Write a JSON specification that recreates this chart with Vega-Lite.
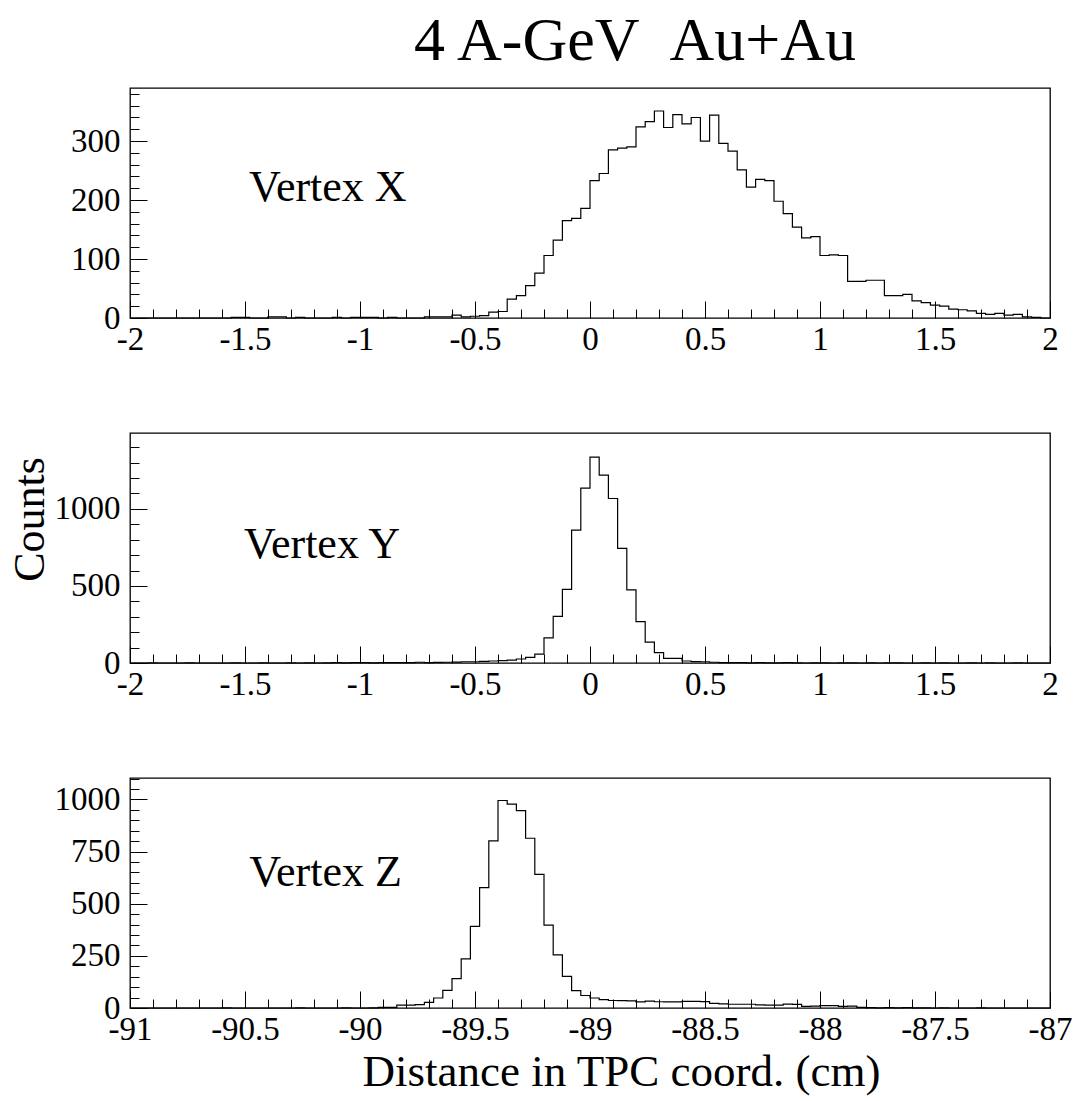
{
  "$schema": "https://vega.github.io/schema/vega-lite/v6.json",
  "background": "white",
  "padding": {"left": 7, "top": 10, "right": 25, "bottom": 10},
  "title": {"text": "4 A-GeV \u00a0Au+Au", "font": "Liberation Serif", "fontSize": 62, "fontWeight": "normal", "color": "black", "anchor": "middle", "offset": 4, "dx": 95},
  "config": {
    "font": "Liberation Serif",
    "view": {"stroke": "black", "strokeWidth": 1.3},
    "axis": {"domain": false, "grid": false, "labelFont": "Liberation Serif", "labelFontSize": 33, "labelColor": "black", "tickColor": "black", "tickWidth": 1, "titleFont": "Liberation Serif", "titleFontSize": 44, "titleFontWeight": "normal", "titleColor": "black", "labelOverlap": false, "labelFlush": false, "labelPadding": 27},
    "axisX": {"labelPadding": 22}
  },
  "bounds": "flush",
  "spacing": 115,
  "datasets": {
    "vx": [
      {"x": -2.00, "c": 0}, {"x": -1.96, "c": 0}, {"x": -1.92, "c": 0}, {"x": -1.88, "c": 0}, {"x": -1.84, "c": 0},
      {"x": -1.80, "c": 0}, {"x": -1.76, "c": 0}, {"x": -1.72, "c": 0}, {"x": -1.68, "c": 0}, {"x": -1.64, "c": 0},
      {"x": -1.60, "c": 0}, {"x": -1.56, "c": 1}, {"x": -1.52, "c": 1}, {"x": -1.48, "c": 0}, {"x": -1.44, "c": 0},
      {"x": -1.40, "c": 2}, {"x": -1.36, "c": 2}, {"x": -1.32, "c": 0}, {"x": -1.28, "c": 1}, {"x": -1.24, "c": 0},
      {"x": -1.20, "c": 0}, {"x": -1.16, "c": 0}, {"x": -1.12, "c": 1}, {"x": -1.08, "c": 0}, {"x": -1.04, "c": 1},
      {"x": -1.00, "c": 1}, {"x": -0.96, "c": 1}, {"x": -0.92, "c": 0}, {"x": -0.88, "c": 1}, {"x": -0.84, "c": 0},
      {"x": -0.80, "c": 0}, {"x": -0.76, "c": 0}, {"x": -0.72, "c": 2}, {"x": -0.68, "c": 2}, {"x": -0.64, "c": 2},
      {"x": -0.60, "c": 5}, {"x": -0.56, "c": 2}, {"x": -0.52, "c": 3}, {"x": -0.48, "c": 4}, {"x": -0.44, "c": 10},
      {"x": -0.40, "c": 11}, {"x": -0.36, "c": 32}, {"x": -0.32, "c": 38}, {"x": -0.28, "c": 55}, {"x": -0.24, "c": 76},
      {"x": -0.20, "c": 106}, {"x": -0.16, "c": 132}, {"x": -0.12, "c": 165}, {"x": -0.08, "c": 169}, {"x": -0.04, "c": 186},
      {"x": 0.00, "c": 233}, {"x": 0.04, "c": 245}, {"x": 0.08, "c": 285}, {"x": 0.12, "c": 288}, {"x": 0.16, "c": 290},
      {"x": 0.20, "c": 324}, {"x": 0.24, "c": 333}, {"x": 0.28, "c": 351}, {"x": 0.32, "c": 323}, {"x": 0.36, "c": 345},
      {"x": 0.40, "c": 329}, {"x": 0.44, "c": 340}, {"x": 0.48, "c": 300}, {"x": 0.52, "c": 344}, {"x": 0.56, "c": 296},
      {"x": 0.60, "c": 283}, {"x": 0.64, "c": 251}, {"x": 0.68, "c": 222}, {"x": 0.72, "c": 235}, {"x": 0.76, "c": 233},
      {"x": 0.80, "c": 198}, {"x": 0.84, "c": 177}, {"x": 0.88, "c": 154}, {"x": 0.92, "c": 136}, {"x": 0.96, "c": 138},
      {"x": 1.00, "c": 106}, {"x": 1.04, "c": 107}, {"x": 1.08, "c": 106}, {"x": 1.12, "c": 62}, {"x": 1.16, "c": 62},
      {"x": 1.20, "c": 64}, {"x": 1.24, "c": 64}, {"x": 1.28, "c": 38}, {"x": 1.32, "c": 38}, {"x": 1.36, "c": 40},
      {"x": 1.40, "c": 29}, {"x": 1.44, "c": 26}, {"x": 1.48, "c": 22}, {"x": 1.52, "c": 20}, {"x": 1.56, "c": 15},
      {"x": 1.60, "c": 14}, {"x": 1.64, "c": 12}, {"x": 1.68, "c": 8}, {"x": 1.72, "c": 6}, {"x": 1.76, "c": 8},
      {"x": 1.80, "c": 5}, {"x": 1.84, "c": 6}, {"x": 1.88, "c": 2}, {"x": 1.92, "c": 1}, {"x": 1.96, "c": 0},
      {"x": 2.00, "c": 0}
    ],
    "vy": [
      {"x": -2.00, "c": 0}, {"x": -1.96, "c": 0}, {"x": -1.92, "c": 1}, {"x": -1.88, "c": 0}, {"x": -1.84, "c": 0},
      {"x": -1.80, "c": 0}, {"x": -1.76, "c": 1}, {"x": -1.72, "c": 0}, {"x": -1.68, "c": 0}, {"x": -1.64, "c": 0},
      {"x": -1.60, "c": 0}, {"x": -1.56, "c": 1}, {"x": -1.52, "c": 0}, {"x": -1.48, "c": 0}, {"x": -1.44, "c": 1},
      {"x": -1.40, "c": 0}, {"x": -1.36, "c": 0}, {"x": -1.32, "c": 1}, {"x": -1.28, "c": 0}, {"x": -1.24, "c": 1},
      {"x": -1.20, "c": 0}, {"x": -1.16, "c": 1}, {"x": -1.12, "c": 2}, {"x": -1.08, "c": 1}, {"x": -1.04, "c": 2},
      {"x": -1.00, "c": 2}, {"x": -0.96, "c": 1}, {"x": -0.92, "c": 2}, {"x": -0.88, "c": 3}, {"x": -0.84, "c": 2},
      {"x": -0.80, "c": 3}, {"x": -0.76, "c": 5}, {"x": -0.72, "c": 3}, {"x": -0.68, "c": 4}, {"x": -0.64, "c": 5},
      {"x": -0.60, "c": 6}, {"x": -0.56, "c": 8}, {"x": -0.52, "c": 8}, {"x": -0.48, "c": 11}, {"x": -0.44, "c": 13},
      {"x": -0.40, "c": 15}, {"x": -0.36, "c": 19}, {"x": -0.32, "c": 26}, {"x": -0.28, "c": 37}, {"x": -0.24, "c": 58},
      {"x": -0.20, "c": 163}, {"x": -0.16, "c": 303}, {"x": -0.12, "c": 477}, {"x": -0.08, "c": 862}, {"x": -0.04, "c": 1135},
      {"x": 0.00, "c": 1335}, {"x": 0.04, "c": 1219}, {"x": 0.08, "c": 1067}, {"x": 0.12, "c": 744}, {"x": 0.16, "c": 475},
      {"x": 0.20, "c": 269}, {"x": 0.24, "c": 135}, {"x": 0.28, "c": 67}, {"x": 0.32, "c": 30}, {"x": 0.36, "c": 30},
      {"x": 0.40, "c": 13}, {"x": 0.44, "c": 9}, {"x": 0.48, "c": 8}, {"x": 0.52, "c": 5}, {"x": 0.56, "c": 3},
      {"x": 0.60, "c": 2}, {"x": 0.64, "c": 2}, {"x": 0.68, "c": 1}, {"x": 0.72, "c": 2}, {"x": 0.76, "c": 1},
      {"x": 0.80, "c": 1}, {"x": 0.84, "c": 2}, {"x": 0.88, "c": 1}, {"x": 0.92, "c": 0}, {"x": 0.96, "c": 1},
      {"x": 1.00, "c": 1}, {"x": 1.04, "c": 0}, {"x": 1.08, "c": 1}, {"x": 1.12, "c": 1}, {"x": 1.16, "c": 0},
      {"x": 1.20, "c": 1}, {"x": 1.24, "c": 0}, {"x": 1.28, "c": 1}, {"x": 1.32, "c": 1}, {"x": 1.36, "c": 0},
      {"x": 1.40, "c": 0}, {"x": 1.44, "c": 1}, {"x": 1.48, "c": 0}, {"x": 1.52, "c": 1}, {"x": 1.56, "c": 0},
      {"x": 1.60, "c": 0}, {"x": 1.64, "c": 1}, {"x": 1.68, "c": 0}, {"x": 1.72, "c": 1}, {"x": 1.76, "c": 0},
      {"x": 1.80, "c": 0}, {"x": 1.84, "c": 1}, {"x": 1.88, "c": 0}, {"x": 1.92, "c": 0}, {"x": 1.96, "c": 0},
      {"x": 2.00, "c": 0}
    ],
    "vz": [
      {"x": -91.00, "c": 0}, {"x": -90.96, "c": 0}, {"x": -90.92, "c": 0}, {"x": -90.88, "c": 0}, {"x": -90.84, "c": 0},
      {"x": -90.80, "c": 0}, {"x": -90.76, "c": 0}, {"x": -90.72, "c": 0}, {"x": -90.68, "c": 0}, {"x": -90.64, "c": 0},
      {"x": -90.60, "c": 1}, {"x": -90.56, "c": 0}, {"x": -90.52, "c": 0}, {"x": -90.48, "c": 0}, {"x": -90.44, "c": 0},
      {"x": -90.40, "c": 0}, {"x": -90.36, "c": 0}, {"x": -90.32, "c": 0}, {"x": -90.28, "c": 1}, {"x": -90.24, "c": 0},
      {"x": -90.20, "c": 0}, {"x": -90.16, "c": 0}, {"x": -90.12, "c": 0}, {"x": -90.08, "c": 1}, {"x": -90.04, "c": 0},
      {"x": -90.00, "c": 0}, {"x": -89.96, "c": 1}, {"x": -89.92, "c": 3}, {"x": -89.88, "c": 3}, {"x": -89.84, "c": 14},
      {"x": -89.80, "c": 14}, {"x": -89.76, "c": 16}, {"x": -89.72, "c": 27}, {"x": -89.68, "c": 48}, {"x": -89.64, "c": 85},
      {"x": -89.60, "c": 141}, {"x": -89.56, "c": 236}, {"x": -89.52, "c": 391}, {"x": -89.48, "c": 577}, {"x": -89.44, "c": 801},
      {"x": -89.40, "c": 995}, {"x": -89.36, "c": 978}, {"x": -89.32, "c": 947}, {"x": -89.28, "c": 814}, {"x": -89.24, "c": 641},
      {"x": -89.20, "c": 397}, {"x": -89.16, "c": 255}, {"x": -89.12, "c": 152}, {"x": -89.08, "c": 83}, {"x": -89.04, "c": 60},
      {"x": -89.00, "c": 48}, {"x": -88.96, "c": 40}, {"x": -88.92, "c": 36}, {"x": -88.88, "c": 35}, {"x": -88.84, "c": 34},
      {"x": -88.80, "c": 29}, {"x": -88.76, "c": 33}, {"x": -88.72, "c": 30}, {"x": -88.68, "c": 29}, {"x": -88.64, "c": 29},
      {"x": -88.60, "c": 32}, {"x": -88.56, "c": 32}, {"x": -88.52, "c": 31}, {"x": -88.48, "c": 22}, {"x": -88.44, "c": 20},
      {"x": -88.40, "c": 18}, {"x": -88.36, "c": 18}, {"x": -88.32, "c": 18}, {"x": -88.28, "c": 15}, {"x": -88.24, "c": 14},
      {"x": -88.20, "c": 14}, {"x": -88.16, "c": 19}, {"x": -88.12, "c": 17}, {"x": -88.08, "c": 8}, {"x": -88.04, "c": 9},
      {"x": -88.00, "c": 11}, {"x": -87.96, "c": 11}, {"x": -87.92, "c": 8}, {"x": -87.88, "c": 9}, {"x": -87.84, "c": 3},
      {"x": -87.80, "c": 2}, {"x": -87.76, "c": 1}, {"x": -87.72, "c": 2}, {"x": -87.68, "c": 1}, {"x": -87.64, "c": 2},
      {"x": -87.60, "c": 1}, {"x": -87.56, "c": 1}, {"x": -87.52, "c": 0}, {"x": -87.48, "c": 1}, {"x": -87.44, "c": 0},
      {"x": -87.40, "c": 0}, {"x": -87.36, "c": 0}, {"x": -87.32, "c": 1}, {"x": -87.28, "c": 0}, {"x": -87.24, "c": 0},
      {"x": -87.20, "c": 0}, {"x": -87.16, "c": 0}, {"x": -87.12, "c": 0}, {"x": -87.08, "c": 0}, {"x": -87.04, "c": 0},
      {"x": -87.00, "c": 0}
    ],
    "labX": [{"t": "Vertex X", "x": -1.14, "c": 221}],
    "labY": [{"t": "Vertex Y", "x": -1.165, "c": 768}],
    "labZ": [{"t": "Vertex Z", "x": -90.15, "c": 647}]
  },
  "vconcat": [
    {
      "width": 920, "height": 230,
      "layer": [
        {
          "data": {"name": "vx"},
          "mark": {"type": "line", "interpolate": "step-after", "color": "black", "strokeWidth": 1.2},
          "encoding": {
            "x": {"field": "x", "type": "quantitative", "scale": {"domain": [-2, 2], "nice": false, "zero": false},
              "axis": {"title": null, "tickCount": 100, "labelOverlap": false, "values": [-2,-1.9,-1.8,-1.7,-1.6,-1.5,-1.4,-1.3,-1.2,-1.1,-1,-0.9,-0.8,-0.7,-0.6,-0.5,-0.4,-0.3,-0.2,-0.1,0,0.1,0.2,0.3,0.4,0.5,0.6,0.7,0.8,0.9,1,1.1,1.2,1.3,1.4,1.5,1.6,1.7,1.8,1.9,2],
                "labelExpr": "abs(datum.value*2 - round(datum.value*2)) < 0.001 ? '' + datum.value : ''",
                "tickSize": {"condition": {"test": "abs(datum.value*2 - round(datum.value*2)) < 0.001", "value": -17}, "value": -9}}},
            "y": {"field": "c", "type": "quantitative", "scale": {"domain": [0, 390], "nice": false},
              "axis": {"title": null, "tickCount": 100, "labelOverlap": false, "values": [0,20,40,60,80,100,120,140,160,180,200,220,240,260,280,300,320,340,360,380],
                "labelExpr": "datum.value % 100 == 0 ? '' + datum.value : ''",
                "tickSize": {"condition": {"test": "datum.value % 100 == 0", "value": -17}, "value": -9}}}
          }
        },
        {
          "data": {"name": "labX"},
          "mark": {"type": "text", "font": "Liberation Serif", "fontSize": 44, "color": "black", "align": "center", "baseline": "middle"},
          "encoding": {"x": {"field": "x", "type": "quantitative"}, "y": {"field": "c", "type": "quantitative"}, "text": {"field": "t"}}
        }
      ]
    },
    {
      "width": 920, "height": 230,
      "layer": [
        {
          "data": {"name": "vy"},
          "mark": {"type": "line", "interpolate": "step-after", "color": "black", "strokeWidth": 1.2},
          "encoding": {
            "x": {"field": "x", "type": "quantitative", "scale": {"domain": [-2, 2], "nice": false, "zero": false},
              "axis": {"title": null, "tickCount": 100, "labelOverlap": false, "values": [-2,-1.9,-1.8,-1.7,-1.6,-1.5,-1.4,-1.3,-1.2,-1.1,-1,-0.9,-0.8,-0.7,-0.6,-0.5,-0.4,-0.3,-0.2,-0.1,0,0.1,0.2,0.3,0.4,0.5,0.6,0.7,0.8,0.9,1,1.1,1.2,1.3,1.4,1.5,1.6,1.7,1.8,1.9,2],
                "labelExpr": "abs(datum.value*2 - round(datum.value*2)) < 0.001 ? '' + datum.value : ''",
                "tickSize": {"condition": {"test": "abs(datum.value*2 - round(datum.value*2)) < 0.001", "value": -17}, "value": -9}}},
            "y": {"field": "c", "type": "quantitative", "scale": {"domain": [0, 1492], "nice": false},
              "axis": {"title": "Counts", "titlePadding": 2, "titleY": 86, "tickCount": 100, "labelOverlap": false, "values": [0,100,200,300,400,500,600,700,800,900,1000,1100,1200,1300,1400],
                "labelExpr": "datum.value % 500 == 0 ? '' + datum.value : ''",
                "tickSize": {"condition": {"test": "datum.value % 500 == 0", "value": -17}, "value": -9}}}
          }
        },
        {
          "data": {"name": "labY"},
          "mark": {"type": "text", "font": "Liberation Serif", "fontSize": 44, "color": "black", "align": "center", "baseline": "middle"},
          "encoding": {"x": {"field": "x", "type": "quantitative"}, "y": {"field": "c", "type": "quantitative"}, "text": {"field": "t"}}
        }
      ]
    },
    {
      "width": 920, "height": 230,
      "layer": [
        {
          "data": {"name": "vz"},
          "mark": {"type": "line", "interpolate": "step-after", "color": "black", "strokeWidth": 1.2},
          "encoding": {
            "x": {"field": "x", "type": "quantitative", "scale": {"domain": [-91, -87], "nice": false, "zero": false},
              "axis": {"title": "Distance in TPC coord. (cm)", "titleFontSize": 45, "titleX": 491, "titlePadding": -5, "tickCount": 100, "labelOverlap": false, "values": [-91,-90.9,-90.8,-90.7,-90.6,-90.5,-90.4,-90.3,-90.2,-90.1,-90,-89.9,-89.8,-89.7,-89.6,-89.5,-89.4,-89.3,-89.2,-89.1,-89,-88.9,-88.8,-88.7,-88.6,-88.5,-88.4,-88.3,-88.2,-88.1,-88,-87.9,-87.8,-87.7,-87.6,-87.5,-87.4,-87.3,-87.2,-87.1,-87],
                "labelExpr": "abs(datum.value*2 - round(datum.value*2)) < 0.001 ? '' + datum.value : ''",
                "tickSize": {"condition": {"test": "abs(datum.value*2 - round(datum.value*2)) < 0.001", "value": -17}, "value": -9}}},
            "y": {"field": "c", "type": "quantitative", "scale": {"domain": [0, 1103], "nice": false},
              "axis": {"title": null, "tickCount": 100, "labelOverlap": false, "values": [0,50,100,150,200,250,300,350,400,450,500,550,600,650,700,750,800,850,900,950,1000,1050,1100],
                "labelExpr": "datum.value % 250 == 0 ? '' + datum.value : ''",
                "tickSize": {"condition": {"test": "datum.value % 250 == 0", "value": -17}, "value": -9}}}
          }
        },
        {
          "data": {"name": "labZ"},
          "mark": {"type": "text", "font": "Liberation Serif", "fontSize": 44, "color": "black", "align": "center", "baseline": "middle"},
          "encoding": {"x": {"field": "x", "type": "quantitative"}, "y": {"field": "c", "type": "quantitative"}, "text": {"field": "t"}}
        }
      ]
    }
  ]
}
